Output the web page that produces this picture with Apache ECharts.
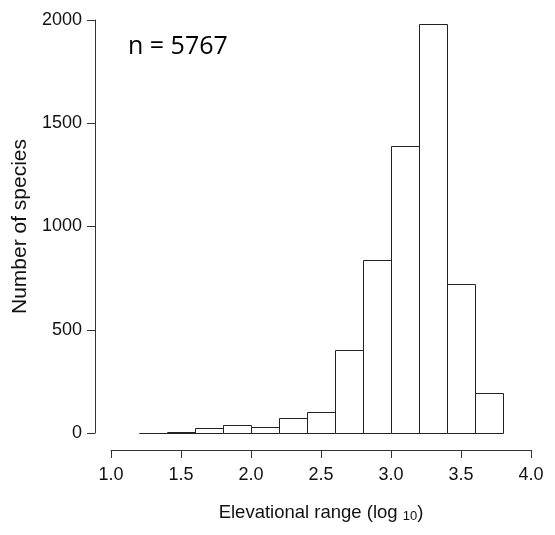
<!DOCTYPE html>
<html>
<head>
<meta charset="utf-8">
<script src="https://cdn.jsdelivr.net/npm/echarts@6/dist/echarts.min.js"></script>
<style>
html,body{margin:0;padding:0;background:#fff;}
#chart{width:555px;height:535px;}
</style>
</head>
<body>
<div id="chart"></div>
<script>
var binStarts = [1.2, 1.4, 1.6, 1.8, 2.0, 2.2, 2.4, 2.6, 2.8, 3.0, 3.2, 3.4, 3.6];
var binEnds   = [1.4, 1.6, 1.8, 2.0, 2.2, 2.4, 2.6, 2.8, 3.0, 3.2, 3.4, 3.6, 3.8];
var counts    = [0, 5, 22, 37, 27, 75, 100, 400, 838, 1390, 1979, 720, 192];
var xTicks = [1.0, 1.5, 2.0, 2.5, 3.0, 3.5, 4.0];
var yTicks = [0, 500, 1000, 1500, 2000];
var annotation = 'n = 5767';

var data = binStarts.map(function (s, i) { return [s, binEnds[i], counts[i]]; });

var chart = echarts.init(document.getElementById('chart'), null, {renderer: 'canvas'});
var font = 'Liberation Sans, Arial, sans-serif';
chart.setOption({
  animation: false,
  backgroundColor: '#fff',
  grid: {left: 111, right: 24, top: 20, bottom: 102},
  xAxis: {
    type: 'value', min: 1, max: 4, interval: 0.5, offset: 17,
    axisLine: {show: true, onZero: false, lineStyle: {color: '#333', width: 1}},
    axisTick: {show: true, length: 8, lineStyle: {color: '#333'}},
    splitLine: {show: false},
    axisLabel: {margin: 16, color: '#111', fontSize: 18, fontFamily: font,
      formatter: function (v) { return v.toFixed(1); }},
    name: '{a|Elevational range (log }{b|10}{a|)}',
    nameLocation: 'middle', nameGap: 52,
    nameTextStyle: {rich: {
      a: {fontSize: 18.5, fontFamily: font, color: '#111'},
      b: {fontSize: 13, fontFamily: font, color: '#111', padding: [8, 0, 0, 0]}
    }}
  },
  yAxis: {
    type: 'value', min: 0, max: 2000, interval: 500, offset: 16,
    axisLine: {show: true, onZero: false, lineStyle: {color: '#333', width: 1}},
    axisTick: {show: true, length: 8, lineStyle: {color: '#333'}},
    splitLine: {show: false},
    axisLabel: {margin: 13, color: '#111', fontSize: 18, fontFamily: font,
      formatter: function (v) { return String(v); }},
    name: 'Number of species', nameLocation: 'middle', nameGap: 62, nameRotate: 90,
    nameTextStyle: {fontSize: 21, fontFamily: font, color: '#111'}
  },
  graphic: [{
    type: 'text', left: 128, top: 34,
    style: {text: annotation, fontSize: 25, fontFamily: 'Open Sans, Lato, sans-serif', fill: '#000'}
  }],
  series: [{
    type: 'custom',
    data: data,
    encode: {x: [0, 1], y: 2},
    renderItem: function (params, api) {
      var p0 = api.coord([api.value(0), 0]);
      var p1 = api.coord([api.value(1), api.value(2)]);
      return {
        type: 'rect',
        shape: {x: Math.round(p0[0]) + 0.5, y: Math.round(p1[1]) + 0.5,
                width: Math.round(p1[0]) - Math.round(p0[0]),
                height: Math.round(p0[1]) - Math.round(p1[1])},
        style: {fill: '#fff', stroke: '#222', lineWidth: 1}
      };
    }
  }]
});
</script>
</body>
</html>
